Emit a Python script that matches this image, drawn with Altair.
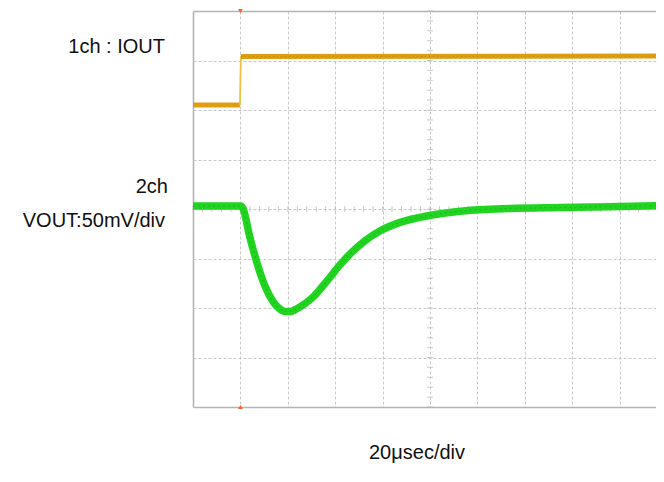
import altair as alt
import pandas as pd

# ---- data (in oscilloscope divisions) ----
# Channel 1 (IOUT) trace: time [div], level [div]
ch1_t = [0.0, 0.99, 1.01, 1.01, 9.94]
ch1_v = [6.10, 6.10, 6.12, 7.08, 7.09]
ch1_seg = ["a", "a", "b", "c", "c"]

# Channel 2 (VOUT) trace: time [div], level [div]
ch2_t = [0.0, 0.5, 1.01, 1.05, 1.20, 1.35, 1.52, 1.69, 1.82, 1.94, 2.05, 2.20,
         2.35, 2.53, 2.70, 2.89, 3.10, 3.31, 3.63, 3.95, 4.37, 5.00, 5.70,
         6.69, 7.74, 8.40, 9.00, 9.94]
ch2_v = [4.06, 4.06, 4.06, 4.02, 3.43, 2.91, 2.44, 2.13, 1.99, 1.93, 1.93, 1.99,
         2.08, 2.22, 2.40, 2.62, 2.87, 3.09, 3.36, 3.56, 3.73, 3.87, 3.96,
         4.01, 4.03, 4.04, 4.05, 4.07]

trigger_t = [1.0]
trigger_level = [8.0, 0.0]

x_grid = list(range(0, 10))
y_grid = list(range(0, 9))

label_ch1 = "1ch : IOUT"
label_ch2a = "2ch"
label_ch2b = "VOUT:50mV/div"
label_time = "20μsec/div"

FONT = "Liberation Sans"
PLOT_W = 463
DIV_W = 47.4

xscale = alt.Scale(domain=[0, PLOT_W / DIV_W], nice=False, zero=False)
yscale = alt.Scale(domain=[0, 8], nice=False, zero=False)


def cond(test, solid, dashed):
    return {"condition": {"test": test, "value": solid}, "value": dashed}


xt = "datum.value == 0"
yt = "datum.value == 0 || datum.value == 8"

xaxis = alt.Axis(values=x_grid, grid=True, gridDash=cond(xt, [], [3, 2]),
                 gridColor=cond(xt, "#b4b4b4", "#c8c8c8"), gridWidth=cond(xt, 1.6, 1),
                 domain=False, labels=False, ticks=False, title=None)
yaxis = alt.Axis(values=y_grid, grid=True, gridDash=cond(yt, [], [3, 2]),
                 gridColor=cond(yt, "#b4b4b4", "#c8c8c8"), gridWidth=cond(yt, 1.6, 1),
                 domain=False, labels=False, ticks=False, title=None)

# minor ticks along the centre cross-hair (decoration)
minor = [i / 5 for i in range(0, 50)]
minor_x = pd.DataFrame({"t": [m for m in minor if m <= PLOT_W / DIV_W], "v": 4.0})
minor_y = pd.DataFrame({"t": 5.0, "v": [m for m in minor if m <= 8]})

base = alt.Chart(minor_x).mark_tick(orient="vertical", size=6, thickness=1, color="#b8b8b8").encode(
    x=alt.X("t:Q", scale=xscale, axis=xaxis),
    y=alt.Y("v:Q", scale=yscale, axis=yaxis),
)
ticks_v = alt.Chart(minor_y).mark_tick(orient="horizontal", size=6, thickness=1, color="#b8b8b8").encode(
    x=alt.X("t:Q", scale=xscale), y=alt.Y("v:Q", scale=yscale)
)

df1 = pd.DataFrame({"t": ch1_t, "v": ch1_v, "seg": ch1_seg})
ch1_low = alt.Chart(df1[df1.seg == "a"]).mark_line(color="#dd9e12", strokeWidth=5, clip=True).encode(
    x=alt.X("t:Q", scale=xscale), y=alt.Y("v:Q", scale=yscale))
ch1_step = alt.Chart(df1.iloc[[1, 3]]).mark_line(color="#f0c040", strokeWidth=1.8).encode(
    x=alt.X("t:Q", scale=xscale), y=alt.Y("v:Q", scale=yscale))
ch1_high = alt.Chart(df1[df1.seg == "c"]).mark_line(color="#dd9e12", strokeWidth=5, clip=True).encode(
    x=alt.X("t:Q", scale=xscale), y=alt.Y("v:Q", scale=yscale))
ch1_noise = alt.Chart(df1[df1.seg == "c"]).mark_line(color="#8a6a10", strokeWidth=1, opacity=0.45,
                                                     strokeDash=[1, 3], clip=True).encode(
    x=alt.X("t:Q", scale=xscale), y=alt.Y("v:Q", scale=yscale))

df2 = pd.DataFrame({"t": ch2_t, "v": ch2_v})
ch2 = alt.Chart(df2).mark_line(color="#22d422", strokeWidth=7.5, interpolate="monotone", clip=True).encode(
    x=alt.X("t:Q", scale=xscale), y=alt.Y("v:Q", scale=yscale))
ch2_core = alt.Chart(df2).mark_line(color="#15a515", strokeWidth=1.2, opacity=0.55,
                                    interpolate="monotone", strokeDash=[2, 3], clip=True).encode(
    x=alt.X("t:Q", scale=xscale), y=alt.Y("v:Q", scale=yscale))

dtrig = pd.DataFrame({"t": trigger_t * 2, "v": trigger_level,
                      "shape": ["triangle-down", "triangle-up"]})
trig = alt.Chart(dtrig).mark_point(filled=True, size=22, color="#ff5a2a", opacity=1).encode(
    x=alt.X("t:Q", scale=xscale), y=alt.Y("v:Q", scale=yscale),
    shape=alt.Shape("shape:N", scale=None))


def label(txt, x, y, align):
    return alt.Chart(pd.DataFrame({"s": [txt]})).mark_text(
        font=FONT, fontSize=20, color="#111111", align=align, baseline="alphabetic"
    ).encode(x=alt.value(x), y=alt.value(y), text="s:N")


texts = [
    label(label_ch1, -28, 42, "right"),
    label(label_ch2a, -25, 182, "right"),
    label(label_ch2b, -28, 216, "right"),
    label(label_time, 224, 448, "center"),
]

chart = alt.layer(base, ticks_v, ch1_low, ch1_step, ch1_high, ch1_noise, ch2, ch2_core, trig,
                  *texts).properties(
    width=PLOT_W, height=396,
    padding={"left": 185, "top": 3, "right": 0, "bottom": 60},
    autosize="none",
    background="white",
).configure_view(strokeWidth=0)

chart.save("out.html", embed_options={"renderer": "svg", "actions": False})
